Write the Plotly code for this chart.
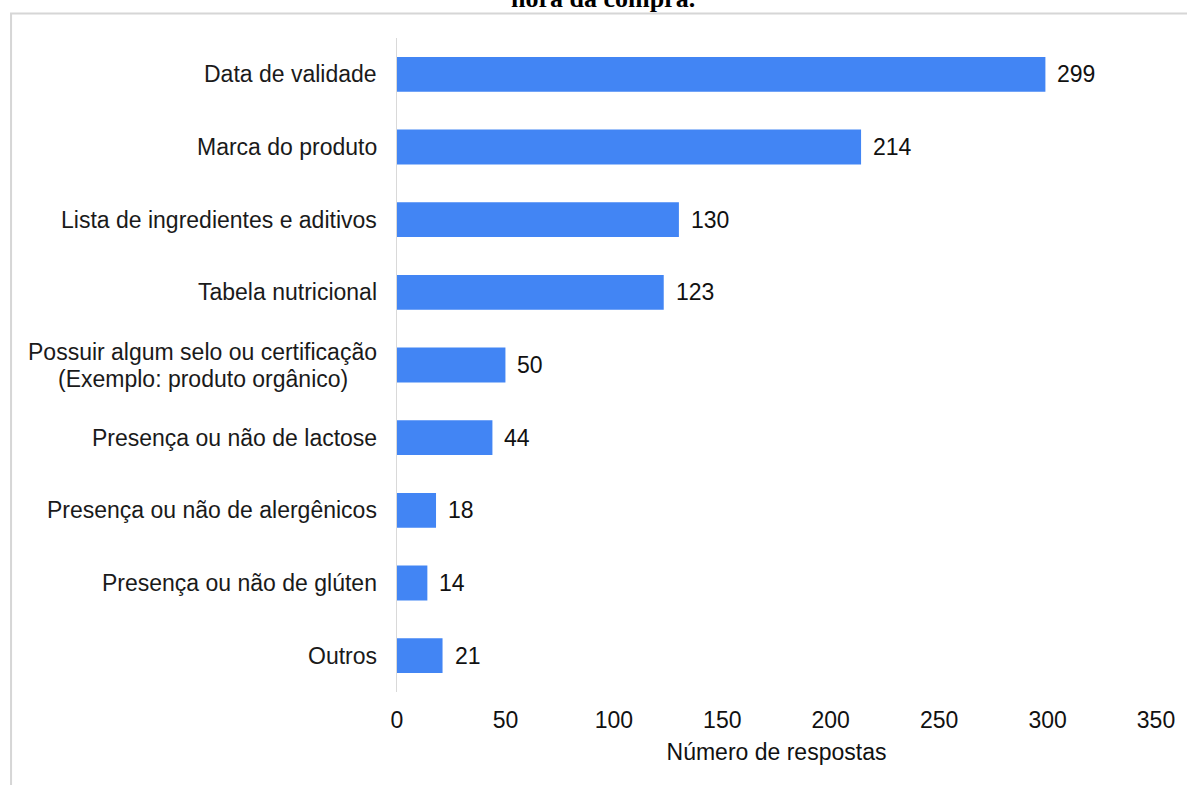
import plotly.graph_objects as go

# Atributos observados no rótulo e número de respostas
categorias = [
    "Data de validade",
    "Marca do produto",
    "Lista de ingredientes e aditivos",
    "Tabela nutricional",
    "Possuir algum selo ou certificação<br>(Exemplo: produto orgânico)",
    "Presença ou não de lactose",
    "Presença ou não de alergênicos",
    "Presença ou não de glúten",
    "Outros",
]
respostas = [299, 214, 130, 123, 50, 44, 18, 14, 21]
ticks_x = [0, 50, 100, 150, 200, 250, 300, 350]

FONT = "Liberation Sans, Arial, sans-serif"
FS = 23
LINE_H = 27  # espaçamento entre linhas nos rótulos de duas linhas

fig = go.Figure(
    go.Bar(
        x=respostas,
        y=categorias,
        orientation="h",
        width=0.48,
        marker=dict(color="#4285F4", line=dict(width=0)),
        hoverinfo="x+y",
    )
)

annotations = []
# Rótulos das categorias; as linhas de um rótulo longo ficam centralizadas entre si
for cat in categorias:
    linhas = cat.split("<br>")
    n = len(linhas)
    larg = max(len(l) for l in linhas)
    for i, linha in enumerate(linhas):
        dy = ((n - 1) / 2 - i) * LINE_H
        principal = n == 1 or len(linha) == larg
        annotations.append(dict(
            x=0, xref="x", y=cat, yref="y", text=linha, showarrow=False,
            xanchor="right" if principal else "center",
            yanchor="middle", align="center",
            xshift=-18 if principal else -18 - 176.5,
            yshift=dy,
            font=dict(family=FONT, size=FS, color="#1a1a1a"),
        ))
# Valores ao lado das barras
for cat, v in zip(categorias, respostas):
    annotations.append(dict(
        x=v, xref="x", y=cat, yref="y", text=str(v), showarrow=False,
        xanchor="left", yanchor="middle", xshift=10,
        font=dict(family=FONT, size=FS, color="#111111"),
    ))
# Final do título da figura
annotations.append(dict(
    x=0.272, xref="paper", y=1.0345, yref="paper", text="<b>hora da compra.</b>",
    showarrow=False, xanchor="center", yanchor="bottom",
    font=dict(family="Liberation Serif, Times New Roman, serif", size=26, color="#000000"),
))

fig.update_layout(
    width=1187,
    height=785,
    margin=dict(l=397, r=29, t=38, b=93),
    paper_bgcolor="white",
    plot_bgcolor="white",
    showlegend=False,
    bargap=0.52,
    annotations=annotations,
    shapes=[dict(
        type="rect", xref="paper", yref="paper",
        x0=-0.5085, x1=1.2, y0=-0.3, y1=1.0375,
        line=dict(color="#d6d6d6", width=2), fillcolor="rgba(0,0,0,0)", layer="below",
    )],
    xaxis=dict(
        range=[0, 350],
        tickvals=ticks_x,
        showgrid=False,
        zeroline=False,
        showline=False,
        ticks="",
        ticklabelstandoff=12,
        tickfont=dict(family=FONT, size=FS, color="#111111"),
        title=dict(text="Número de respostas", font=dict(family=FONT, size=FS, color="#111111"), standoff=11),
    ),
    yaxis=dict(
        autorange="reversed",
        showticklabels=False,
        showgrid=False,
        zeroline=False,
        showline=True,
        linecolor="#d9d9d9",
        linewidth=1,
        ticks="",
    ),
)

fig.write_html("out.html")
